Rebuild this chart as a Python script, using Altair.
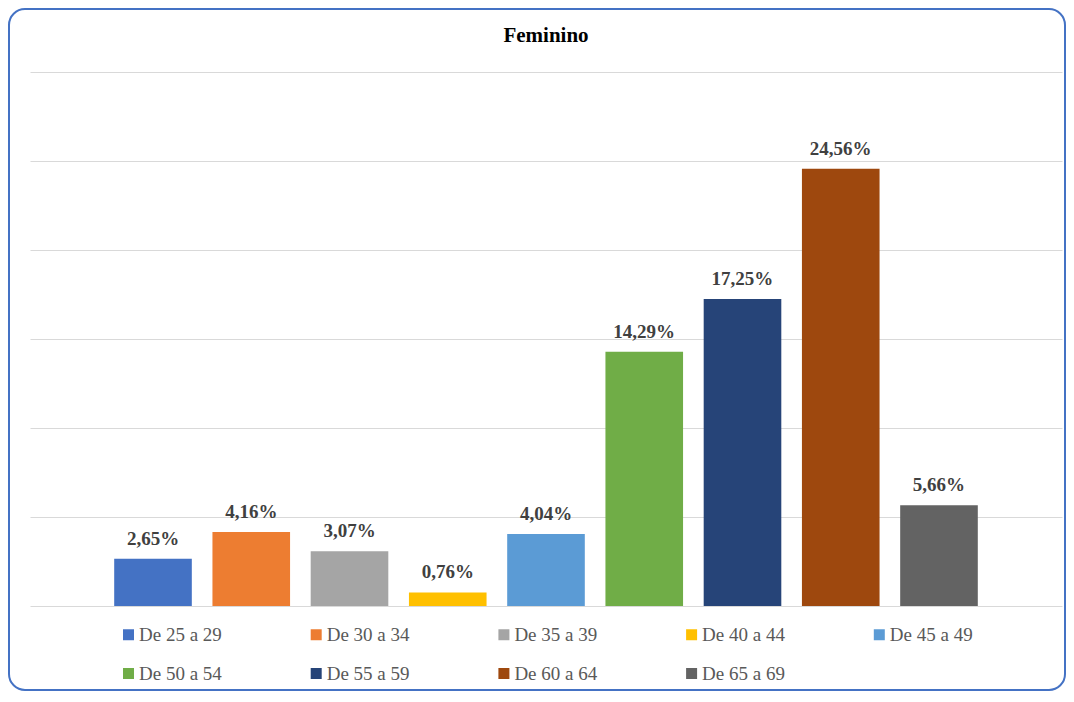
import altair as alt
import pandas as pd

categories = ["De 25 a 29", "De 30 a 34", "De 35 a 39", "De 40 a 44", "De 45 a 49",
              "De 50 a 54", "De 55 a 59", "De 60 a 64", "De 65 a 69"]
values = [2.65, 4.16, 3.07, 0.76, 4.04, 14.29, 17.25, 24.56, 5.66]
colors = ["#4472C4", "#ED7D31", "#A5A5A5", "#FFC000", "#5B9BD5",
          "#70AD47", "#264478", "#9E480E", "#636363"]
title_text = "Feminino"
y_ticks = [0, 5, 10, 15, 20, 25, 30]

FONT = "Liberation Serif"

df = pd.DataFrame({"faixa": categories, "pct": values})

base = alt.Chart(df).encode(
    x=alt.X("faixa:N", sort=categories, axis=None,
            scale=alt.Scale(paddingInner=0.21, paddingOuter=0.857)),
    y=alt.Y("pct:Q", scale=alt.Scale(domain=[0, 30], nice=False),
            axis=alt.Axis(values=y_ticks, labels=False, ticks=False, domain=False,
                          grid=True, gridColor="#D9D9D9", gridWidth=1, title=None)),
)

bars = base.mark_bar().encode(
    color=alt.Color("faixa:N", sort=categories,
                    scale=alt.Scale(domain=categories, range=colors),
                    legend=alt.Legend(orient="none", legendX=89, legendY=553,
                                      columns=5, direction="horizontal",
                                      symbolType="square", symbolSize=121,
                                      symbolStrokeWidth=0,
                                      labelFont=FONT, labelFontSize=19,
                                      labelColor="#595959", labelOffset=1,
                                      columnPadding=84.7, rowPadding=19,
                                      title=None))
)

labels = base.transform_calculate(
    lbl="replace(format(datum.pct, '.2f'), '.', ',') + '%'"
).mark_text(dy=-14, baseline="alphabetic", font=FONT, fontSize=19,
            fontWeight="bold", color="#404040").encode(text="lbl:N")

deco = alt.Chart(alt.Data(values=[{"t": title_text}]))

border = deco.mark_rect(
    fill="transparent", stroke="#4472C4", strokeWidth=2, cornerRadius=16
).encode(x=alt.value(-21), x2=alt.value(1035), y=alt.value(-63), y2=alt.value(618))

title = deco.mark_text(
    font=FONT, fontSize=21, fontWeight="bold", color="#000000",
    align="center", baseline="alphabetic"
).encode(text="t:N", x=alt.value(516), y=alt.value(-30))

chart = alt.layer(border, bars, labels, title).properties(
    width=1032, height=534,
    autosize="none",
    padding={"left": 22, "top": 64, "right": 4, "bottom": 86},
).configure_view(strokeWidth=0)

chart.save("out.html", embed_options={"renderer": "svg", "actions": False})
